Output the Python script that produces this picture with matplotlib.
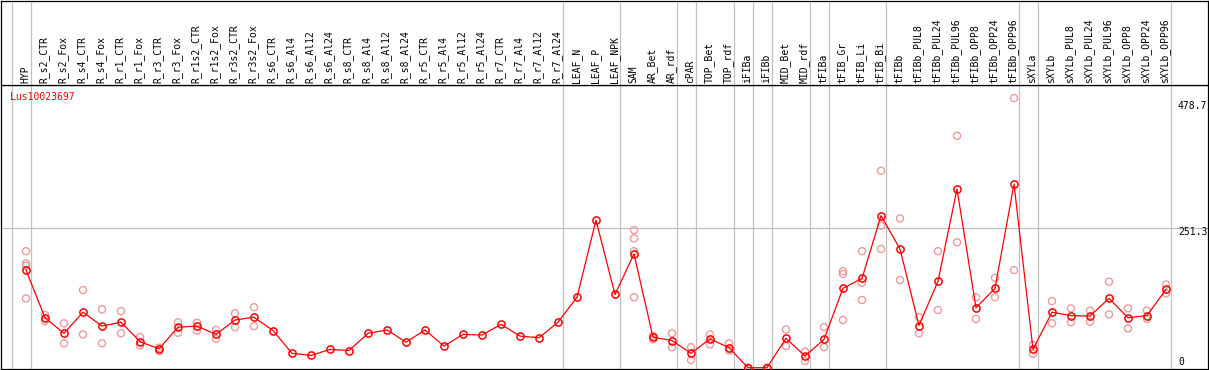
import numpy as np
import matplotlib
matplotlib.use("Agg")
import matplotlib.pyplot as plt

# sample names, in plotting order
samples = ["HYP",
           "R_s2_CTR", "R_s2_Fox", "R_s4_CTR", "R_s4_Fox", "R_r1_CTR", "R_r1_Fox",
           "R_r3_CTR", "R_r3_Fox", "R_r1s2_CTR", "R_r1s2_Fox", "R_r3s2_CTR", "R_r3s2_Fox",
           "R_s6_CTR", "R_s6_Al4", "R_s6_Al12", "R_s6_Al24",
           "R_s8_CTR", "R_s8_Al4", "R_s8_Al12", "R_s8_Al24",
           "R_r5_CTR", "R_r5_Al4", "R_r5_Al12", "R_r5_Al24",
           "R_r7_CTR", "R_r7_Al4", "R_r7_Al12", "R_r7_Al24",
           "LEAF_N", "LEAF_P", "LEAF_NPK",
           "SAM", "AR_Bet", "AR_rdf",
           "cPAR",
           "TOP_Bet", "TOP_rdf",
           "iFIBa", "iFIBb",
           "MID_Bet", "MID_rdf",
           "tFIBa",
           "tFIB_Gr", "tFIB_Li", "tFIB_Bi",
           "tFIBb", "tFIBb_PUL8", "tFIBb_PUL24", "tFIBb_PUL96",
           "tFIBb_OPP8", "tFIBb_OPP24", "tFIBb_OPP96",
           "sXYLa",
           "sXYLb", "sXYLb_PUL8", "sXYLb_PUL24", "sXYLb_PUL96",
           "sXYLb_OPP8", "sXYLb_OPP24", "sXYLb_OPP96"]

# how many samples in each tissue block (grey separators between blocks)
group_sizes = [1, 28, 3, 3, 1, 2, 1, 1, 2, 1, 3, 7, 1, 7]

# mean expression per sample
means = [176,
         90, 62, 100, 75, 82, 47, 34, 73, 75, 60, 86, 91,
         67, 26, 22, 33, 31, 62, 68, 46, 68, 39, 60, 59, 78, 57, 54, 82,
         127, 266, 132,
         205, 55, 49,
         26,
         52, 36,
         0, 0,
         53, 21,
         51,
         143, 161, 274,
         214, 76, 156, 322, 108, 143, 331,
         33,
         100, 94, 93, 125, 90, 94, 141]

# individual replicates
reps = [[210, 188, 184, 125],
        [95, 84], [80, 44], [140, 60], [105, 44], [102, 62], [55, 40],
        [36, 30], [82, 63], [81, 67], [68, 52], [98, 73], [109, 75],
        [], [], [], [], [], [], [], [], [], [], [], [], [], [], [], [],
        [], [], [],
        [248, 233, 210, 127], [57, 51], [62, 37],
        [37, 14],
        [60, 42], [44, 31],
        [0, 0], [0, 0],
        [69, 39], [29, 12],
        [73, 37],
        [174, 169, 86], [210, 153, 122], [355, 256, 214],
        [269, 158], [91, 62], [210, 104], [418, 226], [127, 88], [162, 127], [486, 176],
        [41, 25],
        [120, 80], [107, 82], [103, 83], [155, 96], [107, 71], [103, 88], [150, 134]]

gene = "Lus10023697"
y_ticks = [478.7, 251.3, 0]

W, H = 1209, 370
RED = "#ff0000"
PALE = "#f09a9a"
GREY = "#c0c0c0"
FONT = "DejaVu Sans Mono"

fig = plt.figure(figsize=(W / 100, H / 100), dpi=100)
ax = fig.add_axes([1 / W, 1 / H, 1207 / W, 284 / H])
hd = fig.add_axes([1 / W, 285 / H, 1207 / W, 84.5 / H], sharex=ax)

x = np.arange(len(samples))
ax.set_xlim((1 - 26) / 19, (1208 - 26) / 19)
ax.set_ylim(-2.34, 509.6)
hd.set_ylim(0, 1)

for a in (ax, hd):
    a.set_xticks([])
    a.set_yticks([])
    for s in a.spines.values():
        s.set_color("black")
        s.set_linewidth(0.9)

# block separators
ends = np.cumsum(group_sizes) - 1
for pos in np.concatenate([[-1], ends]):
    for a in (ax, hd):
        a.axvline(pos + 0.25, color=GREY, lw=0.9, zorder=0)

ax.axhline(y_ticks[1], color=GREY, lw=0.9, zorder=0)

# replicates
rx = [i for i, r in enumerate(reps) for _ in r]
ry = [v for r in reps for v in r]
ax.scatter(rx, ry, s=26, facecolors="none", edgecolors=PALE, linewidths=1, zorder=2)

# means
ax.plot(x, means, color=RED, lw=0.9, marker="o", ms=5.2, mfc="none", mec=RED, mew=1.1, zorder=3)

# sample names in the header
for i, name in enumerate(samples):
    hd.text(i - 0.05, 2 / 85, name, rotation=90, ha="center", va="bottom",
            fontsize=7, family=FONT, color="black")

ax.text((10 - 26) / 19, 488, gene, color=RED, fontsize=7, family=FONT, ha="left", va="center")

# value labels on the right
xr = (1178 - 26) / 19
for v in y_ticks:
    off = -4 if v > 0 else 6
    ax.annotate(f"{v:g}", xy=(xr, v), xytext=(0, off), textcoords="offset pixels",
                ha="left", va="center", fontsize=7, family=FONT, color="black")

fig.savefig("out.png", dpi=100)
